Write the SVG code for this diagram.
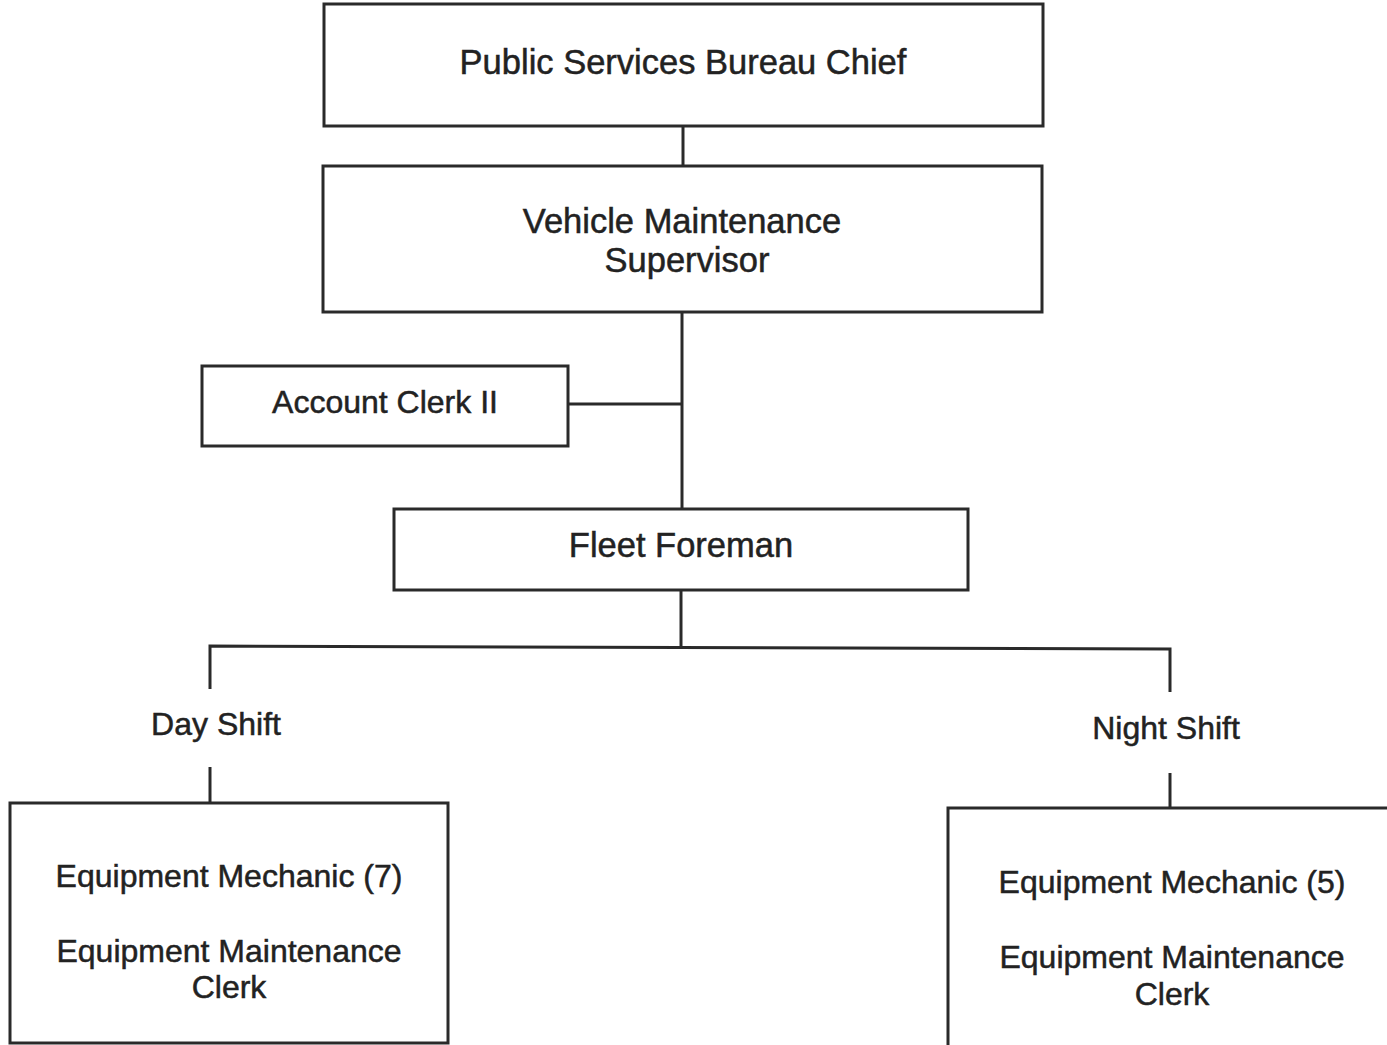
<svg xmlns="http://www.w3.org/2000/svg" width="1387" height="1045" viewBox="0 0 1387 1045">
  <style>
    .box { fill: #ffffff; stroke: #2a2a2a; stroke-width: 3; }
    .link { fill: none; stroke: #2a2a2a; stroke-width: 3; }
    .lbl { font-family: "Liberation Sans", Arial, sans-serif; fill: #222222; stroke: #222222; stroke-width: 0.5; text-anchor: middle; }
    .big { font-size: 34.5px; }
    .small { font-size: 32px; }
  </style>
  <rect width="1387" height="1045" fill="#ffffff"/>

  <g id="connectors">
    <line class="link" x1="683" y1="126" x2="683" y2="166"/>
    <line class="link" x1="682" y1="312" x2="682" y2="509"/>
    <line class="link" x1="568" y1="404" x2="682" y2="404"/>
    <line class="link" x1="681" y1="590" x2="681" y2="647"/>
    <polyline class="link" points="210,689 210,646 1170,649 1170,692"/>
    <line class="link" x1="210" y1="767" x2="210" y2="803"/>
    <line class="link" x1="1170" y1="773" x2="1170" y2="808"/>
  </g>

  <g id="bureau-chief">
    <rect class="box" x="324" y="4" width="719" height="122"/>
    <text class="lbl big" x="683" y="74">Public Services Bureau Chief</text>
  </g>

  <g id="maintenance-supervisor">
    <rect class="box" x="323" y="166" width="719" height="146"/>
    <text class="lbl big" x="682" y="233">Vehicle Maintenance</text>
    <text class="lbl big" x="687" y="272">Supervisor</text>
  </g>

  <g id="account-clerk">
    <rect class="box" x="202" y="366" width="366" height="80"/>
    <text class="lbl small" x="385" y="413">Account Clerk II</text>
  </g>

  <g id="fleet-foreman">
    <rect class="box" x="394" y="509" width="574" height="81"/>
    <text class="lbl big" x="681" y="557">Fleet Foreman</text>
  </g>

  <g id="day-shift">
    <text class="lbl small" x="216" y="735">Day Shift</text>
  </g>

  <g id="night-shift">
    <text class="lbl small" x="1166" y="739">Night Shift</text>
  </g>

  <g id="day-crew">
    <rect class="box" x="10" y="803" width="438" height="240"/>
    <text class="lbl small" x="229" y="887">Equipment Mechanic (7)</text>
    <text class="lbl small" x="229" y="962">Equipment Maintenance</text>
    <text class="lbl small" x="229" y="998">Clerk</text>
  </g>

  <g id="night-crew">
    <rect class="box" x="948" y="808" width="445" height="245"/>
    <text class="lbl small" x="1172" y="893">Equipment Mechanic (5)</text>
    <text class="lbl small" x="1172" y="968">Equipment Maintenance</text>
    <text class="lbl small" x="1172" y="1005">Clerk</text>
  </g>
</svg>
